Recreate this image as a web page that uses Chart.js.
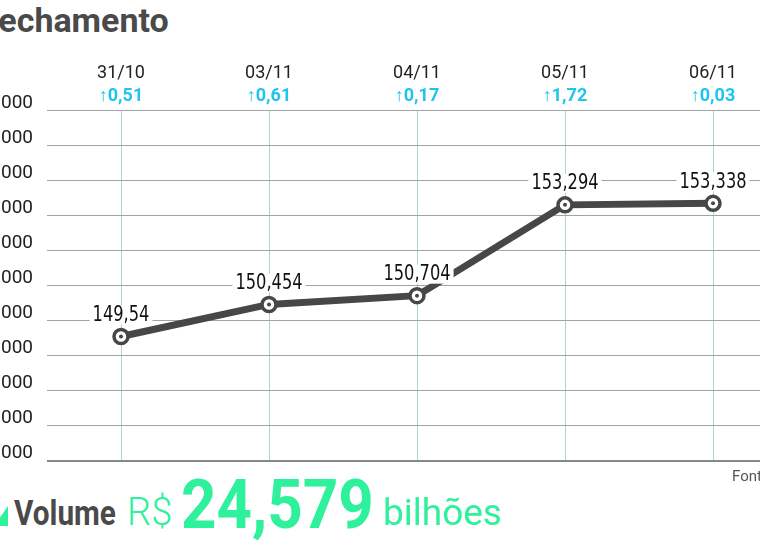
<!DOCTYPE html>
<html lang="pt-BR">
<head>
<meta charset="utf-8">
<title>Fechamento</title>
<script src="https://cdn.jsdelivr.net/npm/chart.js@4.4.0/dist/chart.umd.min.js"></script>
<style>
  html, body { margin: 0; padding: 0; background: #fff; }
  body { width: 760px; height: 541px; position: relative; overflow: hidden; font-family: Roboto, sans-serif; }
  #titulo { position: absolute; left: -20px; top: 0; font: bold 34px Roboto, sans-serif; color: #4a4a4a; }
  #grafico { position: absolute; left: -60px; top: 0; width: 860px; height: 486px; }
  #fonte { position: absolute; left: 732px; top: 467px; font: 15px Roboto, sans-serif; color: #555; white-space: nowrap; }
  #volume { position: absolute; left: 0; top: 470px; height: 70px; white-space: nowrap; }
  #volume span { position: absolute; bottom: 9px; line-height: 1; }
  #icone { left: -6px; width: 14px; height: 20px; bottom: 14px !important; background: #2ff09b;
           clip-path: polygon(0 100%, 0 30%, 40% 60%, 100% 0, 100% 100%); }
  #vol { left: 14px; font: bold 35px Roboto, sans-serif; color: #4a4a4a; transform: scaleX(0.85); transform-origin: left bottom; }
  #rs { left: 127px; font: 300 38px Roboto, sans-serif; color: #2ff09b; }
  #valor { left: 181px; font: bold 68px Roboto, sans-serif; color: #2ff09b; transform: scaleX(0.91); transform-origin: left bottom; bottom: 1px !important; }
  #bilhoes { left: 383px; font: 37px Roboto, sans-serif; color: #2ff09b; }
</style>
</head>
<body>
<div id="titulo">Fechamento</div>
<div id="grafico"><canvas id="chart"></canvas></div>
<div id="fonte">Fonte: B3</div>
<div id="volume">
  <span id="icone"></span>
  <span id="vol">Volume</span>
  <span id="rs">R$</span>
  <span id="valor">24,579</span>
  <span id="bilhoes">bilhões</span>
</div>
<script>
// ===== DADOS =====
const dias = ['31/10', '03/11', '04/11', '05/11', '06/11'];
const variacoes = ['0,51', '0,61', '0,17', '1,72', '0,03'];
const fechamento = [149.54, 150.454, 150.704, 153.294, 153.338];
const rotulos = ['149,54', '150,454', '150,704', '153,294', '153,338'];
const ticksY = [146, 147, 148, 149, 150, 151, 152, 153, 154, 155, 156];
const ticksYTexto = ['146.000', '147.000', '148.000', '149.000', '150.000', '151.000',
                     '152.000', '153.000', '154.000', '155.000', '156.000'];

const CINZA_LINHA = '#474747';
const CIANO = '#1fc4ef';

// rótulos de valor com fundo branco acima dos pontos
const rotulosPlugin = {
    id: 'rotulos',
    afterDatasetsDraw(chart) {
        const meta = chart.getDatasetMeta(1);
        const ctx = chart.ctx;
        const sx = 0.86;
        ctx.save();
        ctx.font = '21px "DejaVu Sans Condensed", "DejaVu Sans", sans-serif';
        ctx.textAlign = 'center';
        ctx.textBaseline = 'middle';
        meta.data.forEach((pt, i) => {
            const txt = rotulos[i];
            const w = ctx.measureText(txt).width * sx;
            const y = pt.y - 21;
            ctx.fillStyle = '#fff';
            ctx.fillRect(pt.x - w / 2 - 3, y - 10, w + 6, 19);
            ctx.save();
            ctx.translate(pt.x, y);
            ctx.scale(sx, 1);
            ctx.fillStyle = '#111';
            ctx.fillText(txt, 0, 0);
            ctx.restore();
        });
        ctx.restore();
    }
};

function initChart() {
    const ctx = document.getElementById('chart');
    new Chart(ctx, {
        type: 'line',
        data: {
            labels: dias,
            datasets: [
                {
                    // pontinho central
                    data: fechamento,
                    showLine: false,
                    pointRadius: 2,
                    pointBackgroundColor: CINZA_LINHA,
                    pointBorderWidth: 0,
                    order: 0
                },
                {
                    data: fechamento,
                    borderColor: CINZA_LINHA,
                    borderWidth: 7,
                    pointRadius: 7,
                    pointBorderWidth: 3.5,
                    pointBorderColor: CINZA_LINHA,
                    pointBackgroundColor: '#fff',
                    tension: 0,
                    order: 1
                }
            ]
        },
        options: {
            responsive: true,
            maintainAspectRatio: false,
            animation: false,
            layout: { padding: { top: 62, bottom: 10, right: 13, left: 0 } },
            plugins: { legend: { display: false }, tooltip: { enabled: false } },
            scales: {
                x: {
                    type: 'category',
                    position: 'top',
                    offset: true,
                    weight: 2,
                    grid: { display: true, offset: false, color: '#a9d7ce', drawTicks: false },
                    border: { display: false },
                    ticks: { color: '#222', font: { family: 'Roboto', size: 18 }, padding: 2, maxRotation: 0 },
                    afterFit: s => { s.height = 24; }
                },
                x2: {
                    type: 'category',
                    labels: variacoes.map(v => '\u2191' + v),
                    position: 'top',
                    offset: true,
                    weight: 1,
                    grid: { display: false, drawTicks: false },
                    border: { display: false },
                    ticks: { color: CIANO, font: { family: 'Roboto', size: 18, weight: 'bold' }, padding: 3, maxRotation: 0 },
                    afterFit: s => { s.height = 24; }
                },
                y: {
                    min: 146,
                    max: 156,
                    afterBuildTicks: s => { s.ticks = ticksY.map(v => ({ value: v })); },
                    grid: {
                        drawTicks: false,
                        color: c => c.index === 0 ? '#888' : '#a3a3a3',
                        lineWidth: c => c.index === 0 ? 2 : 1
                    },
                    border: { display: false },
                    ticks: {
                        color: '#222',
                        font: { family: 'Roboto', size: 19 },
                        padding: 14,
                        labelOffset: -7,
                        callback: (v, i) => ticksYTexto[i]
                    },
                    afterFit: s => { s.width = 107; }
                }
            }
        },
        plugins: [rotulosPlugin]
    });
}

document.addEventListener('DOMContentLoaded', initChart);
</script>
</body>
</html>
